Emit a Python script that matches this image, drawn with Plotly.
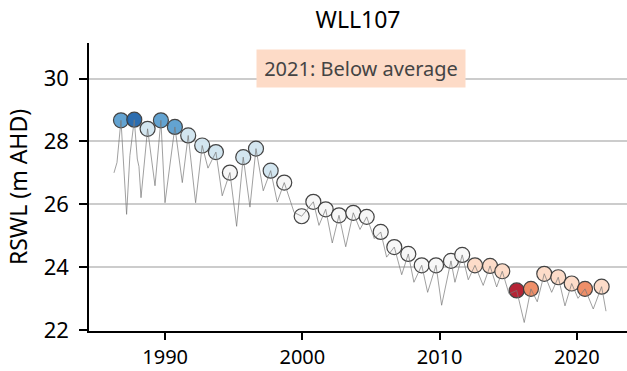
import plotly.graph_objects as go

# Annual peak water levels (markers)
peak_years = [1986.78, 1987.75, 1988.72, 1989.69, 1990.71, 1991.68, 1992.70, 1993.70,
              1994.72, 1995.69, 1996.62, 1997.69, 1998.68, 1999.95, 2000.80, 2001.70,
              2002.67, 2003.71, 2004.69, 2005.71, 2006.70, 2007.72, 2008.70, 2009.74,
              2010.83, 2011.65, 2012.58, 2013.68, 2014.57, 2015.62, 2016.66, 2017.63,
              2018.65, 2019.63, 2020.60, 2021.81]
peak_values = [28.67, 28.69, 28.40, 28.67, 28.46, 28.19, 27.87, 27.66,
               27.01, 27.50, 27.77, 27.07, 26.69, 25.62, 26.08, 25.84,
               25.65, 25.73, 25.60, 25.12, 24.64, 24.42, 24.06, 24.06,
               24.20, 24.39, 24.06, 24.04, 23.87, 23.26, 23.31, 23.79,
               23.68, 23.48, 23.31, 23.38]
peak_class = ["VMA", "H", "A", "VMA", "VMA", "A", "A", "A",
              "AV", "A", "A", "A", "AV", "AV", "AV", "AV",
              "AV", "AV", "AV", "AV", "AV", "AV", "AV", "AV",
              "AV", "AV", "B", "B", "B", "L", "VMB", "B",
              "B", "B", "VMB", "B"]
class_colors = {"H": "#2166ac", "VMA": "#5b9fcf", "A": "#d1e5f0", "AV": "#f7f7f7",
                "B": "#fddbc7", "VMB": "#ef8a62", "L": "#b2182b"}

# Seasonal water level series (line)
line_years = [1986.27, 1986.49, 1986.78, 1987.19, 1987.43, 1987.75, 1987.97, 1988.09,
              1988.24, 1988.72, 1989.26, 1989.69, 1989.99, 1990.71, 1991.25, 1991.68,
              1992.22, 1992.70, 1993.12, 1993.70, 1994.16, 1994.72, 1995.21, 1995.69,
              1996.18, 1996.62, 1997.15, 1997.69, 1998.17, 1998.68, 1999.40, 1999.95,
              2000.80, 2001.21, 2001.70, 2002.18, 2002.67, 2003.16, 2003.71, 2004.20,
              2004.69, 2005.24, 2005.71, 2006.14, 2006.70, 2007.24, 2007.72, 2008.13,
              2008.70, 2009.13, 2009.74, 2010.15, 2010.83, 2011.12, 2011.65, 2012.09,
              2012.58, 2013.18, 2013.68, 2014.16, 2014.57, 2015.06, 2015.62, 2016.17,
              2016.66, 2017.12, 2017.63, 2018.17, 2018.65, 2019.14, 2019.63, 2020.09,
              2020.60, 2021.20, 2021.81, 2022.13]
line_values = [27.00, 27.33, 28.67, 25.68, 27.55, 28.69, 27.44, 27.20,
               26.21, 28.40, 26.59, 28.67, 26.05, 28.46, 26.69, 28.19,
               26.05, 27.87, 27.15, 27.66, 26.27, 27.01, 25.30, 27.50,
               25.91, 27.77, 26.43, 27.07, 26.07, 26.69, 25.74, 25.62,
               26.08, 25.33, 25.84, 24.77, 25.65, 24.65, 25.73, 25.20,
               25.60, 24.91, 25.12, 24.32, 24.64, 23.76, 24.42, 23.52,
               24.06, 23.20, 24.06, 22.79, 24.20, 23.52, 24.39, 23.60,
               24.06, 23.42, 24.04, 23.37, 23.87, 23.15, 23.26, 22.24,
               23.31, 22.90, 23.79, 23.20, 23.68, 22.77, 23.48, 23.01,
               23.31, 22.67, 23.38, 22.60]

x_ticks = [1990, 2000, 2010, 2020]
y_ticks = [22, 24, 26, 28, 30]
title_text = "WLL107"
status_text = "2021: Below average"
y_label = "RSWL (m AHD)"

FONT = "Noto Sans"

fig = go.Figure()
fig.add_trace(go.Scatter(
    x=peak_years, y=peak_values, mode="markers",
    marker=dict(size=15, color=[class_colors[c] for c in peak_class],
                line=dict(color="#3a3a3a", width=1.2), opacity=0.95),
    showlegend=False, hoverinfo="x+y"))
fig.add_trace(go.Scatter(
    x=line_years, y=line_values, mode="lines",
    line=dict(color="rgba(120,120,120,0.7)", width=1),
    showlegend=False, hoverinfo="x+y"))

fig.update_layout(
    width=627, height=371,
    margin=dict(l=89, r=0, t=43, b=40),
    plot_bgcolor="white", paper_bgcolor="white",
    font=dict(family=FONT, size=20, color="black"),
    title=dict(text=title_text, x=0.5, xref="paper", xanchor="center",
               y=1 - 20 / 371, yref="container", yanchor="middle",
               font=dict(family=FONT, size=23, color="black")),
    xaxis=dict(range=[1984.45, 2023.66], tickvals=x_ticks, showgrid=False,
               showline=True, linecolor="black", linewidth=1.5,
               ticks="outside", ticklen=7, tickwidth=1.5, tickcolor="black",
               ticklabelstandoff=0, automargin=False,
               zeroline=False, tickfont=dict(size=20)),
    yaxis=dict(range=[21.97, 31.13], tickvals=y_ticks, showgrid=True,
               gridcolor="#cccccc", gridwidth=1.5,
               showline=True, linecolor="black", linewidth=1.5,
               ticks="outside", ticklen=8, tickwidth=1.5, tickcolor="black",
               ticklabelstandoff=6, automargin=False,
               zeroline=False, tickfont=dict(size=22),
               title=dict(text=y_label, font=dict(size=23), standoff=10)),
)

fig.add_annotation(
    text=status_text, xref="paper", yref="paper",
    x=(361 - 89) / 538, y=(331 - 68.5) / 288, xanchor="center", yanchor="middle",
    showarrow=False, bgcolor="#fddbc7", borderpad=6, width=196, height=25,
    font=dict(family=FONT, size=20, color="#444444"))

fig.write_html("out.html")
